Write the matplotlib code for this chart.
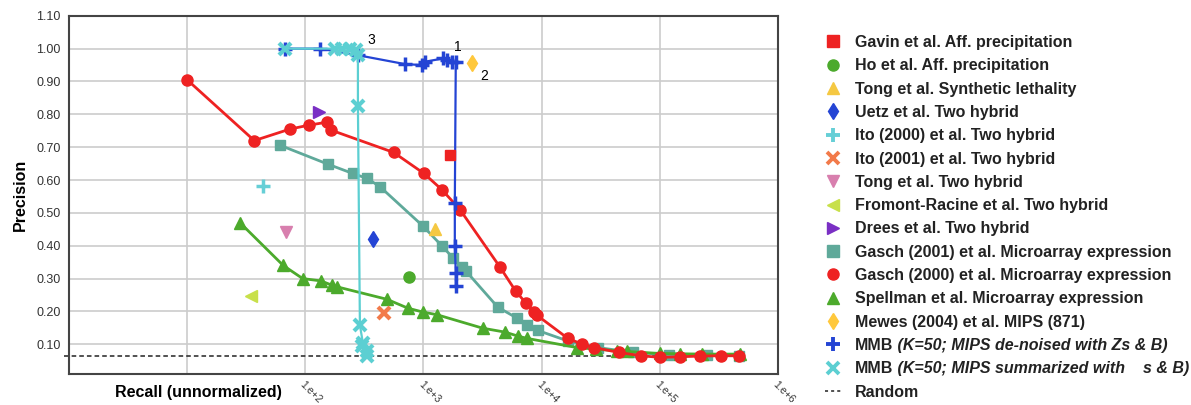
import matplotlib.pyplot as plt
from matplotlib.lines import Line2D

plt.rcParams['font.family'] = ['Liberation Sans', 'DejaVu Sans']

# curves (recall, precision)
gasch00_recall = [10, 37, 74, 107, 152, 165, 560, 1010, 1430, 2040, 4430, 6040, 7350, 8600, 9100,
                  16700, 22200, 28000, 45000, 70000, 100000, 150000, 220000, 330000, 470000]
gasch00_prec = [0.905, 0.72, 0.755, 0.767, 0.776, 0.752, 0.684, 0.62, 0.571, 0.51, 0.336, 0.262, 0.226,
                0.198, 0.189, 0.118, 0.10, 0.09, 0.075, 0.065, 0.06, 0.062, 0.064, 0.065, 0.065]

gasch01_recall = [61, 156, 252, 333, 428, 990, 1430, 1780, 2110, 2290, 4260, 6170, 7500, 9300,
                  16700, 30000, 60000, 120000, 250000, 470000]
gasch01_prec = [0.706, 0.648, 0.62, 0.605, 0.58, 0.46, 0.40, 0.363, 0.335, 0.323, 0.213, 0.18, 0.158,
                0.142, 0.11, 0.09, 0.075, 0.068, 0.066, 0.065]

spellman_recall = [28, 65, 95, 135, 168, 185, 490, 738, 990, 1300, 3170, 4900, 6300, 7500,
                   19900, 29000, 43500, 53000, 100000, 148000, 230000, 478000]
spellman_prec = [0.47, 0.34, 0.30, 0.293, 0.28, 0.275, 0.237, 0.21, 0.198, 0.19, 0.149, 0.137, 0.125,
                 0.118, 0.09, 0.085, 0.08, 0.078, 0.072, 0.071, 0.07, 0.07]

mmb_zs_recall = [67, 133, 279, 696, 969, 1025, 1460, 1578, 1740, 1880, 1845, 1845, 1880, 1880]
mmb_zs_prec = [1.0, 1.0, 0.98, 0.953, 0.95, 0.96, 0.97, 0.965, 0.96, 0.96, 0.53, 0.40, 0.317, 0.277]

mmb_sum_recall = [67, 178, 204, 238, 267, 279, 279, 290, 307, 300, 332, 332]
mmb_sum_prec = [1.0, 1.0, 1.0, 1.0, 0.995, 0.98, 0.825, 0.158, 0.105, 0.095, 0.08, 0.065]

# single points
gavin = (1670, 0.675)
ho = (752, 0.305)
tong_sl = (1250, 0.452)
uetz = (373, 0.42)
ito00 = (44, 0.583)
ito01 = (462, 0.195)
tong_th = (68.6, 0.443)
fromont = (34.7, 0.247)
drees = (130, 0.806)
mewes = (2570, 0.956)

random_prec = 0.063
random_recall = [0.9, 480000]

x_ticks = [1e1, 1e2, 1e3, 1e4, 1e5, 1e6]
x_labels = ['', '1.e+2', '1.e+3', '1.e+4', '1.e+5', '1.e+6']
y_ticks = [0.1, 0.2, 0.3, 0.4, 0.5, 0.6, 0.7, 0.8, 0.9, 1.0, 1.1]

RED = '#ee2222'
TEAL = '#5fa99a'
GREEN = '#4caa2c'
BLUE = '#2444d4'
CYAN = '#5ccfd2'

fig = plt.figure(figsize=(11.91, 4.05), dpi=100)
ax = fig.add_axes([0.058, 0.077, 0.595, 0.884])

ax.plot(random_recall, [random_prec, random_prec], color='#222222', ls=(0, (3, 2)), lw=1.1,
        clip_on=False, zorder=2)

ax.plot(gasch01_recall, gasch01_prec, color=TEAL, lw=2, marker='s', ms=7, zorder=3)
ax.plot(spellman_recall, spellman_prec, color=GREEN, lw=2, marker='^', ms=8, zorder=4)
ax.plot(gasch00_recall, gasch00_prec, color=RED, lw=2, marker='o', ms=8, zorder=5)
ax.plot(mmb_zs_recall, mmb_zs_prec, color=BLUE, lw=1.6, marker='+', ms=10, mew=2.5, zorder=6)
ax.plot(mmb_sum_recall, mmb_sum_prec, color=CYAN, lw=1.6, marker='x', ms=8, mew=3, zorder=7)

ax.plot(*gavin, color=RED, marker='s', ms=7, zorder=8)
ax.plot(*ho, color=GREEN, marker='o', ms=8, zorder=8)
ax.plot(*tong_sl, color='#f5c842', marker='^', ms=8, zorder=8)
ax.plot(*uetz, color=BLUE, marker='d', ms=8, zorder=8)
ax.plot(*ito00, color='#66cfd6', marker='+', ms=10, mew=2.5, zorder=8)
ax.plot(*ito01, color='#f27a4a', marker='x', ms=8, mew=3, zorder=8)
ax.plot(*tong_th, color='#d87fae', marker='v', ms=8, zorder=8)
ax.plot(*fromont, color='#c8e04a', marker='<', ms=8, zorder=8)
ax.plot(*drees, color='#7a2fc4', marker='>', ms=8, zorder=8)
ax.plot(*mewes, color='#ffc83c', marker='d', ms=8, zorder=8)

ax.text(1960, 1.006, '1', fontsize=10, ha='center', va='center', zorder=9)
ax.text(3240, 0.917, '2', fontsize=10, ha='center', va='center', zorder=9)
ax.text(359, 1.027, '3', fontsize=10, ha='center', va='center', zorder=9)

ax.set_xscale('log')
ax.set_xlim(1, 1e6)
ax.set_ylim(0.01, 1.1)
ax.set_xticks(x_ticks)
ax.set_xticklabels(x_labels, rotation=-45, ha='left', va='top', rotation_mode='anchor',
                   fontsize=7.5, color='#333333')
ax.set_xticks([], minor=True)
ax.set_yticks(y_ticks)
ax.set_yticklabels(['%.2f' % v for v in y_ticks], fontsize=9, color='#333333')
ax.tick_params(length=0, pad=6)
ax.tick_params(axis='x', pad=4)
ax.grid(True, color='#cccccc', lw=1.2)
ax.set_axisbelow(True)
for s in ax.spines.values():
    s.set_color('#444444')
    s.set_linewidth(1.5)

ax.set_ylabel('Precision', fontsize=11.5, fontweight='bold', labelpad=6)
fig.text(198 / 1191, 1 - 392 / 405, 'Recall (unnormalized)', fontsize=11.5, fontweight='bold',
         ha='center', va='center')

# legend
handles = [
    Line2D([], [], ls='none', color=RED, marker='s', ms=8),
    Line2D([], [], ls='none', color=GREEN, marker='o', ms=8),
    Line2D([], [], ls='none', color='#f5c842', marker='^', ms=8),
    Line2D([], [], ls='none', color=BLUE, marker='d', ms=8),
    Line2D([], [], ls='none', color='#66cfd6', marker='+', ms=10, mew=2.8),
    Line2D([], [], ls='none', color='#f27a4a', marker='x', ms=8, mew=2.8),
    Line2D([], [], ls='none', color='#d87fae', marker='v', ms=8),
    Line2D([], [], ls='none', color='#c8e04a', marker='<', ms=8),
    Line2D([], [], ls='none', color='#7a2fc4', marker='>', ms=8),
    Line2D([], [], ls='none', color=TEAL, marker='s', ms=8),
    Line2D([], [], ls='none', color=RED, marker='o', ms=8),
    Line2D([], [], ls='none', color=GREEN, marker='^', ms=8),
    Line2D([], [], ls='none', color='#ffc83c', marker='d', ms=8),
    Line2D([], [], ls='none', color=BLUE, marker='+', ms=10, mew=2.8),
    Line2D([], [], ls='none', color=CYAN, marker='x', ms=8, mew=2.8),
    Line2D([], [], ls=(0, (2, 2)), color='#222222', lw=1.1),
]
labels = [
    'Gavin et al. Aff. precipitation',
    'Ho et al. Aff. precipitation',
    'Tong et al. Synthetic lethality',
    'Uetz et al. Two hybrid',
    'Ito (2000) et al. Two hybrid',
    'Ito (2001) et al. Two hybrid',
    'Tong et al. Two hybrid',
    'Fromont-Racine et al. Two hybrid',
    'Drees et al. Two hybrid',
    'Gasch (2001) et al. Microarray expression',
    'Gasch (2000) et al. Microarray expression',
    'Spellman et al. Microarray expression',
    'Mewes (2004) et al. MIPS (871)',
    'MMB',
    'MMB',
    'Random',
]
leg = fig.legend(handles, labels, loc='upper left', bbox_to_anchor=(825 / 1191, 1 - 35 / 405),
                 frameon=False, handlelength=1.0, handletextpad=0.85, labelspacing=0.52,
                 borderpad=0, borderaxespad=0, prop={'weight': 'bold', 'size': 11.5})
for t in leg.get_texts():
    t.set_color('#222222')

# italic tails of the two MMB entries, chained after the legend text
leg_texts = leg.get_texts()
for idx, extra in [(13, ' (K=50; MIPS de-noised with Zs & B)'),
                   (14, ' (K=50; MIPS summarized with    s & B)')]:
    fig.add_artist(plt.Annotation(extra, xy=(1, 0), xycoords=leg_texts[idx], ha='left', va='bottom',
                                  fontsize=11.5, fontweight='bold', fontstyle='italic',
                                  color='#222222', zorder=10))

fig.savefig('out.png', dpi=100)
